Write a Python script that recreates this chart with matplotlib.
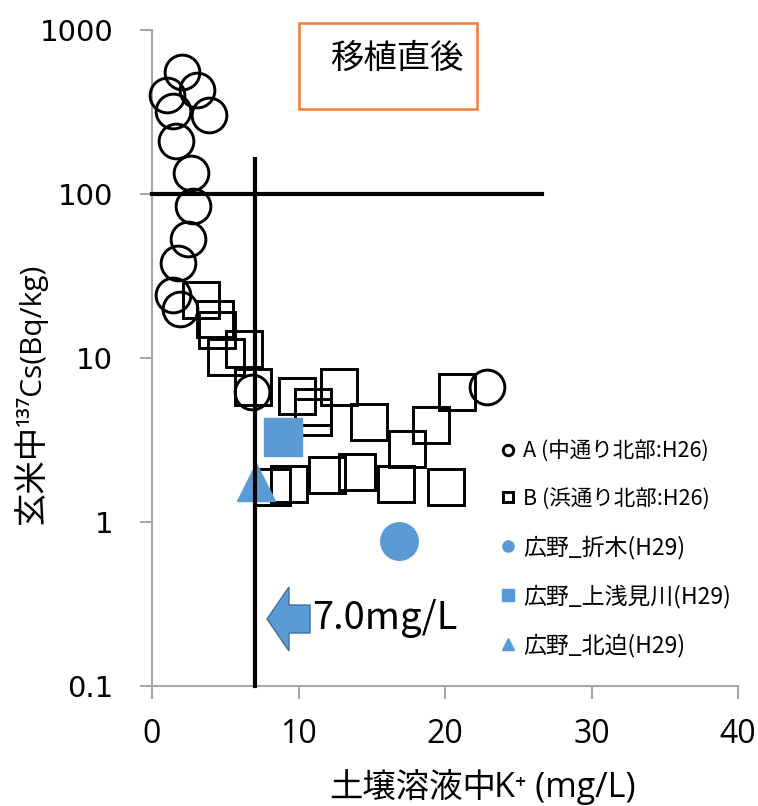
import matplotlib
matplotlib.use('Agg')
import matplotlib.pyplot as plt
from matplotlib.patches import Rectangle, Polygon
from matplotlib.ticker import FixedLocator, FixedFormatter, NullLocator

plt.rcParams['font.family'] = ['Noto Sans CJK JP', 'DejaVu Sans']
latin = ['Open Sans', 'Noto Sans CJK JP', 'DejaVu Sans']

# A (中通り北部:H26) - soil K+ (mg/L) vs brown rice Cs (Bq/kg)
a_k = [2.03, 3.10, 1.00, 3.90, 1.41, 1.62, 2.67, 2.82, 2.44, 1.80, 1.41, 1.91, 6.81, 22.88]
a_cs = [555, 429, 400, 305, 319, 210, 134, 84.5, 53.4, 38, 24.1, 20, 6.2, 6.66]

# B (浜通り北部:H26)
b_k = [3.33, 4.29, 4.46, 6.29, 5.06, 6.90, 9.93, 10.96, 10.96, 12.78, 14.81, 17.43,
       19.05, 20.85, 8.20, 9.32, 11.96, 14.01, 16.63, 20.05]
b_cs = [22.5, 17.4, 14.8, 11.4, 10.1, 6.66, 5.89, 5.0, 4.39, 6.69, 4.05, 2.79,
        3.9, 6.18, 1.63, 1.70, 1.93, 2.01, 1.70, 1.63]

# 広野 (H29)
oriki_k, oriki_cs = [16.88], [0.77]
kamiasami_k, kamiasami_cs = [8.91], [3.30]
kitaba_k, kitaba_cs = [7.1], [1.75]

# reference lines
k_limit = 7.0
k_line_top = 163
cs_limit = 100
cs_line_right = 26.6

labels = ['A (中通り北部:H26)', 'B (浜通り北部:H26)', '広野_折木(H29)',
          '広野_上浅見川(H29)', '広野_北迫(H29)']
yticks = [0.1, 1, 10, 100, 1000]
ytick_labels = ['0.1', '1', '10', '100', '1000']
xticks = [0, 10, 20, 30, 40]

W, H = 758, 806
blue = '#5B9BD5'
gray = '#a6a6a6'


def fx(x):
    return x / W


def fy(y):
    return 1 - y / H


fig = plt.figure(figsize=(W / 100, H / 100), dpi=100)
ax = fig.add_axes([fx(152), fy(686), 586 / W, 656 / H])

ax.plot(a_k, a_cs, 'o', ms=25, mfc='none', mec='black', mew=2.1, clip_on=False,
        label=labels[0], zorder=3)
ax.plot(b_k, b_cs, 's', ms=25.5, mfc='none', mec='black', mew=2.1, clip_on=False,
        label=labels[1], zorder=3)
ax.plot(oriki_k, oriki_cs, 'o', ms=27, color=blue, mec=blue, label=labels[2], zorder=4)
ax.plot(kamiasami_k, kamiasami_cs, 's', ms=27, color=blue, mec=blue, label=labels[3], zorder=4)
ax.plot(kitaba_k, kitaba_cs, '^', ms=27, color=blue, mec=blue, label=labels[4], zorder=4)

ax.plot([k_limit, k_limit], [0.1, k_line_top], color='black', lw=3, zorder=5, clip_on=False)
ax.plot([0, cs_line_right], [cs_limit, cs_limit], color='black', lw=3, zorder=5, clip_on=False)

ax.set_yscale('log')
ax.set_xlim(0, 40)
ax.set_ylim(0.1, 1000)
ax.yaxis.set_major_locator(FixedLocator(yticks))
ax.yaxis.set_major_formatter(FixedFormatter(ytick_labels))
ax.yaxis.set_minor_locator(NullLocator())
ax.set_xticks(xticks)

for s in ['top', 'right']:
    ax.spines[s].set_visible(False)
for s in ['left', 'bottom']:
    ax.spines[s].set_color(gray)
    ax.spines[s].set_linewidth(1.5)
ax.tick_params(axis='both', colors=gray, labelcolor='black', width=1.5, length=9,
               direction='out')
ax.tick_params(axis='y', labelsize=21, pad=19)
ax.tick_params(axis='x', labelsize=23, pad=14)
for t in ax.get_xticklabels():
    t.set_family(latin)
for t in ax.get_yticklabels():
    t.set_family('DejaVu Sans')

# axis titles: CJK part and latin part side by side
fig.text(fx(41), fy(524), '玄米中', rotation=90, rotation_mode='anchor',
         ha='left', va='baseline', fontsize=24)
fig.text(fx(41), fy(426), '¹³⁷Cs(Bq/kg)', rotation=90, rotation_mode='anchor',
         ha='left', va='baseline', fontsize=21.5, family=latin)
fig.text(fx(329), fy(797), '土壌溶液中', ha='left', va='baseline', fontsize=24)
fig.text(fx(494), fy(797), 'K⁺ (mg/L)', ha='left', va='baseline', fontsize=24.5,
         family=latin)

# legend
leg = ax.legend(loc='upper left', bbox_to_anchor=(fx(499), fy(441)),
                bbox_transform=fig.transFigure, frameon=False, fontsize=16.5,
                markerscale=0.3, handlelength=0.75, handletextpad=0.3,
                labelspacing=1.1, borderpad=0, borderaxespad=0)
for t in leg.get_texts()[:2]:
    t.set_fontsize(15.5)

# title box
fig.patches.append(Rectangle((fx(299), fy(109)), 178 / W, 86 / H, transform=fig.transFigure,
                             fill=False, edgecolor='#ED7D31', lw=1.8))
fig.text(fx(397), fy(58), '移植直後', ha='center', va='center', fontsize=24)

# arrow + note
arrow = [(267, 619), (289, 587), (289, 605), (310, 605), (310, 633), (289, 633), (289, 651)]
fig.patches.append(Polygon([(fx(x), fy(y)) for x, y in arrow], closed=True,
                           transform=fig.transFigure, facecolor=blue, edgecolor='#41719C',
                           lw=1))
fig.text(fx(312), fy(629), '7.0mg/L', ha='left', va='baseline', fontsize=27.5)

fig.savefig('out.png', dpi=100)
